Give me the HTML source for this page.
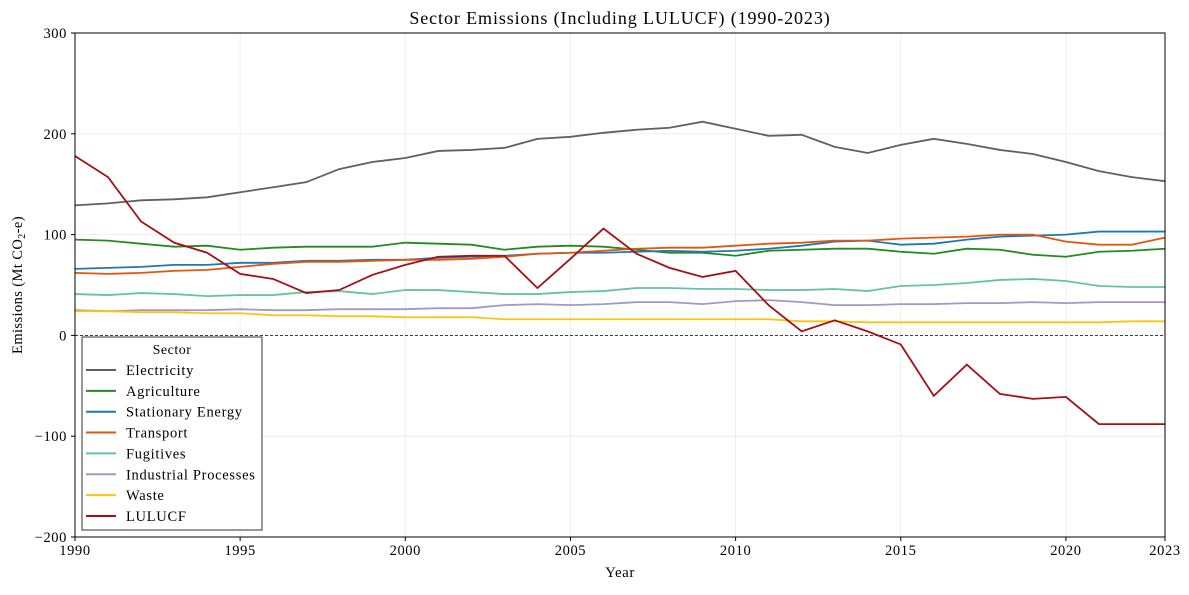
<!DOCTYPE html>
<html><head><meta charset="utf-8"><style>
body{margin:0;background:#fff;}
svg text{font-family:"Liberation Serif","DejaVu Serif",serif;fill:#000;}
</style></head><body>
<svg id="chart" width="1189" height="590" xmlns="http://www.w3.org/2000/svg">
<g id="grid"></g>
<g id="series"></g>
<g id="axes"></g>
<text x="620" y="24" font-size="18" letter-spacing="0.9" text-anchor="middle">Sector Emissions (Including LULUCF) (1990-2023)</text>
<text x="620" y="577" font-size="15" letter-spacing="0.5" text-anchor="middle">Year</text>
<text transform="translate(22,285) rotate(-90)" font-size="14.5" letter-spacing="0.4" text-anchor="middle">Emissions (Mt CO<tspan font-size="10" dy="3">2</tspan><tspan dy="-3">-e)</tspan></text>
<g id="legend"></g>
</svg>
<script>
const years=[];for(let y=1990;y<=2023;y++)years.push(y);
const seriesNames=["Electricity","Agriculture","Stationary Energy","Transport","Fugitives","Industrial Processes","Waste","LULUCF"];
const seriesColors=["#606060","#228b22","#1f77b4","#e6550d","#66c2a5","#9e9ac8","#fdc40f","#a50f15"];
const electricity=[129,131,134,135,137,142,147,152,165,172,176,183,184,186,195,197,201,204,206,212,205,198,199,187,181,189,195,190,184,180,172,163,157,153];
const agriculture=[95,94,91,88,89,85,87,88,88,88,92,91,90,85,88,89,88,85,82,82,79,84,85,86,86,83,81,86,85,80,78,83,84,86];
const stationary=[66,67,68,70,70,72,72,74,74,75,75,77,78,79,81,82,82,83,84,83,84,86,89,93,94,90,91,95,98,99,100,103,103,103];
const transport=[62,61,62,64,65,68,71,73,73,74,75,75,76,78,81,82,84,86,87,87,89,91,92,94,94,96,97,98,100,100,93,90,90,97];
const fugitives=[41,40,42,41,39,40,40,43,44,41,45,45,43,41,41,43,44,47,47,46,46,45,45,46,44,49,50,52,55,56,54,49,48,48];
const industrial=[25,24,25,25,25,26,25,25,26,26,26,27,27,30,31,30,31,33,33,31,34,35,33,30,30,31,31,32,32,33,32,33,33,33];
const waste=[24,24,23,23,22,22,20,20,19,19,18,18,18,16,16,16,16,16,16,16,16,16,14,14,13,13,13,13,13,13,13,13,14,14];
const lulucf=[178,157,113,92,82,61,56,42,45,60,70,78,79,79,47,76,106,81,67,58,64,30,4,15,4,-9,-60,-29,-58,-63,-61,-88,-88,-88];
const xTicks=[1990,1995,2000,2005,2010,2015,2020,2023];
const yTicks=[-200,-100,0,100,200,300];
const allSeries=[electricity,agriculture,stationary,transport,fugitives,industrial,waste,lulucf];

const L=75,R=1165,T=33,B=537,X0=1990,X1=2023,Y0=-200,Y1=300;
const xs=v=>L+(v-X0)/(X1-X0)*(R-L);
const ys=v=>B-(v-Y0)/(Y1-Y0)*(B-T);
const NS="http://www.w3.org/2000/svg";
function mk(tag,attrs,parent){const e=document.createElementNS(NS,tag);for(const k in attrs)e.setAttribute(k,attrs[k]);parent.appendChild(e);return e;}
const grid=document.getElementById('grid'),axes=document.getElementById('axes'),ser=document.getElementById('series'),leg=document.getElementById('legend');
xTicks.forEach(t=>{
  const g=mk('line',{x1:xs(t),x2:xs(t),y1:T,y2:B,stroke:'#ebebeb','stroke-width':0.8},grid);
  
  
  const tk=mk('line',{x1:xs(t),x2:xs(t),y1:B,y2:B+4,stroke:'#000'},axes);
  
  
  const tx=mk('text',{x:xs(t),y:B+18,'font-size':14.5,'letter-spacing':0.6,'text-anchor':'middle'},axes);tx.textContent=t;
  
  
});
yTicks.forEach(t=>{
  const g=mk('line',{x1:L,x2:R,y1:ys(t),y2:ys(t),stroke:'#ebebeb','stroke-width':0.8},grid);
  
  
  const tk=mk('line',{x1:L-4,x2:L,y1:ys(t),y2:ys(t),stroke:'#000'},axes);
  
  
  const tx=mk('text',{x:L-8,y:ys(t)+5,'font-size':14.5,'letter-spacing':0.6,'text-anchor':'end'},axes);tx.textContent=(t<0?'\u2212'+(-t):t);
  
  
});
const z=mk('line',{x1:L,x2:R,y1:ys(0),y2:ys(0),stroke:'#000','stroke-width':0.7,'stroke-dasharray':'3,2'},grid);


allSeries.forEach((d,i)=>{
  const p=mk('polyline',{points:d.map((v,j)=>xs(years[j])+','+ys(v)).join(' '),fill:'none',stroke:seriesColors[i],'stroke-width':1.8},ser);
  
  
});
const fr=mk('rect',{x:L,y:T,width:R-L,height:B-T,fill:'none',stroke:'#000','stroke-width':1},axes);


const lb=mk('rect',{x:82,y:337,width:180,height:193,fill:'#fff',stroke:'#333','stroke-width':1},leg);


const lt=mk('text',{x:172,y:354,'font-size':14,'letter-spacing':0.5,'text-anchor':'middle'},leg);lt.textContent='Sector';


seriesNames.forEach((n,i)=>{
  const y=370+i*20.85;
  const g=mk('g',{},leg);
  
  
  mk('line',{x1:86,x2:116,y1:y,y2:y,stroke:seriesColors[i],'stroke-width':2},g);
  const t=mk('text',{x:126,y:y+5,'font-size':14.5,'letter-spacing':0.7},g);t.textContent=n;
});
</script>
</body></html>
